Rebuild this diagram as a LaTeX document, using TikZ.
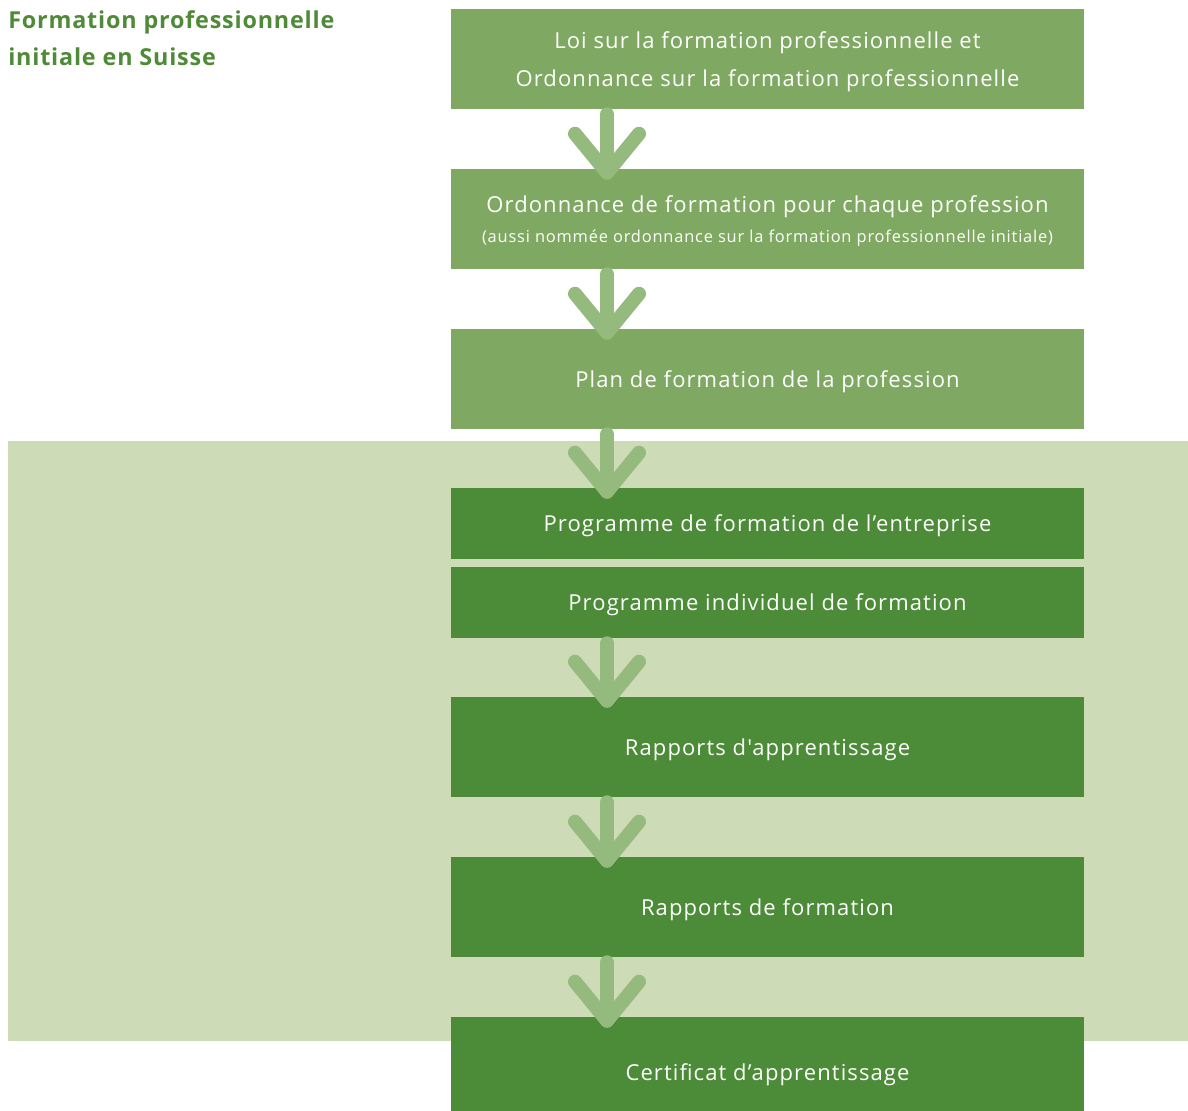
\documentclass[tikz,border=0pt]{standalone}
\usepackage{fontspec}
\setmainfont{Open Sans}
\usetikzlibrary{calc}
\definecolor{boxlight}{HTML}{7FA862}
\definecolor{boxdark}{HTML}{4C8B37}
\definecolor{panel}{HTML}{CDDBB7}
\definecolor{arrowc}{HTML}{94BA7E}
\definecolor{titlec}{HTML}{4E8A38}
\newfontfamily\boxfont[LetterSpace=5]{Open Sans}
\newfontfamily\titlefont[LetterSpace=3.5]{Open Sans Bold}
\tikzset{
  lightbox/.style={fill=boxlight, draw=none, minimum width=633*0.75pt, inner sep=0pt, text=white, align=center, text depth=0pt, font=\boxfont\fontsize{16.5}{28}\selectfont},
  darkbox/.style={lightbox, fill=boxdark},
  flowarrow/.style={draw=arrowc, line width=10.5pt, line cap=round, line join=round}
}
\newcommand{\flowarr}[2]{%
  \draw[flowarrow] ($(#1.south -| ax)+(0,5)$) -- ($(#2.north -| ax)+(0,4)$);
  \draw[flowarrow] ($(#2.north -| ax)+(-32,-35)$) -- ($(#2.north -| ax)+(0,4)$) -- ($(#2.north -| ax)+(32,-35)$);
}
\begin{document}
\begin{tikzpicture}[x=0.75pt,y=-0.75pt]
\useasboundingbox (0,0) rectangle (1188,1110);
\clip (0,0) rectangle (1188,1110);
\fill[panel] (8,441) rectangle (1188,1041);
\node[anchor=north west, inner sep=0pt, text=titlec, align=left, font=\titlefont\fontsize{17.5}{28}\selectfont] (title) at (8,10) {Formation professionnelle\\initiale en Suisse};
\coordinate (ax) at (607,0);
\node[lightbox, minimum height=100*0.75pt] (b1) at (767.5,59) {Loi sur la formation professionnelle et\\Ordonnance sur la formation professionnelle};
\node[lightbox, minimum height=100*0.75pt] (b2) at (767.5,219) {Ordonnance de formation pour chaque profession\\[-6pt]{\fontsize{12.3}{16}\selectfont (aussi nommée ordonnance sur la formation professionnelle initiale)}};
\node[lightbox, minimum height=100*0.75pt] (b3) at (767.5,379) {Plan de formation de la profession};
\node[darkbox, minimum height=71*0.75pt] (b4) at (767.5,523.5) {Programme de formation de l’entreprise};
\node[darkbox, minimum height=71*0.75pt] (b5) at (767.5,602.5) {Programme individuel de formation};
\node[darkbox, minimum height=100*0.75pt] (b6) at (767.5,747) {Rapports d\char"27 apprentissage};
\node[darkbox, minimum height=100*0.75pt] (b7) at (767.5,907) {Rapports de formation};
\node[darkbox, minimum height=110*0.75pt] (b8) at (767.5,1072) {Certificat d’apprentissage};
\flowarr{b1}{b2}
\flowarr{b2}{b3}
\flowarr{b3}{b4}
\flowarr{b5}{b6}
\flowarr{b6}{b7}
\flowarr{b7}{b8}
\end{tikzpicture}
\end{document}
